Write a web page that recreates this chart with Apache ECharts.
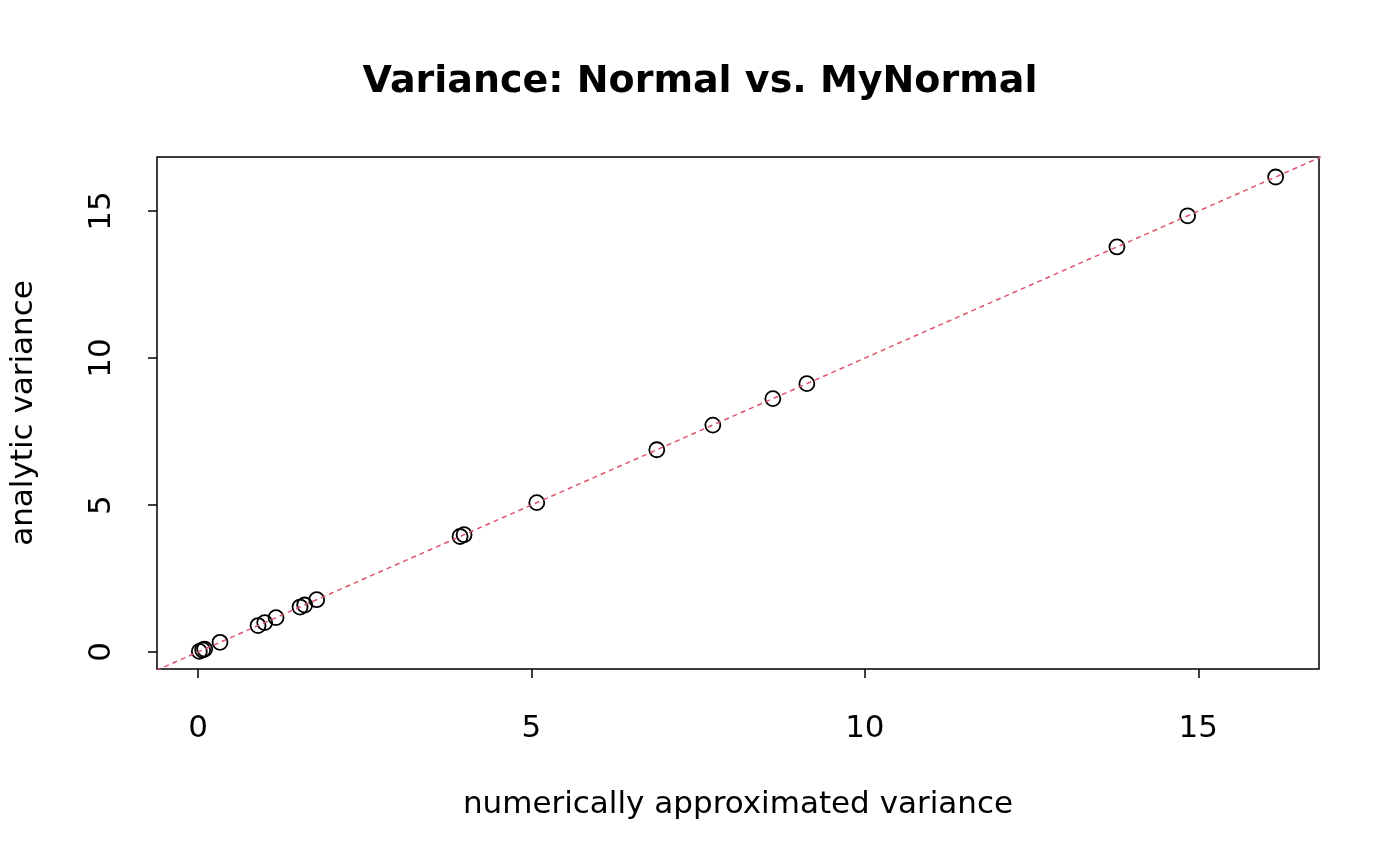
<!DOCTYPE html>
<html>
<head>
<meta charset="UTF-8">
<title>Variance: Normal vs. MyNormal</title>
<script src="https://cdn.jsdelivr.net/npm/echarts@6/dist/echarts.min.js"></script>
</head>
<body style="margin:0">
<div id="main" style="width:1400px;height:866px;"></div>
<script>
var numeric = [0.02, 0.07, 0.1, 0.33, 0.9, 1.0, 1.17, 1.53, 1.6, 1.78, 3.93, 3.99, 5.08, 6.88, 7.72, 8.62, 9.13, 13.78, 14.84, 16.16];
var analytic = [0.02, 0.07, 0.1, 0.33, 0.9, 1.0, 1.17, 1.53, 1.6, 1.78, 3.93, 3.99, 5.08, 6.88, 7.72, 8.62, 9.13, 13.78, 14.84, 16.16];
var refLine = [[-1, -1], [18, 18]];
var ticks = [0, 5, 10, 15];

var pts = numeric.map(function (v, i) { return [v, analytic[i]]; });
var font = 'DejaVu Sans';
var chart = echarts.init(document.getElementById('main'));
chart.setOption({
  backgroundColor: '#fff',
  animation: false,
  title: {
    text: 'Variance: Normal vs. MyNormal', left: 'center', top: 58,
    textStyle: { fontFamily: font, fontSize: 38, fontWeight: 'bold', color: '#000' }
  },
  grid: { left: 157, right: 81, top: 157, bottom: 197, show: true, borderColor: '#000', borderWidth: 1.5 },
  xAxis: {
    type: 'value', min: -0.615, max: 16.81,
    name: 'numerically approximated variance', nameLocation: 'middle', nameGap: 120,
    nameTextStyle: { fontFamily: font, fontSize: 31, color: '#000' },
    axisLine: { show: false, onZero: false }, splitLine: { show: false },
    axisTick: { show: true, inside: false, length: 9, lineStyle: { color: '#000', width: 1.5 }, customValues: ticks },
    axisLabel: { fontFamily: font, fontSize: 31, color: '#000', margin: 44, customValues: ticks }
  },
  yAxis: {
    type: 'value', min: -0.578, max: 16.84,
    name: 'analytic variance', nameLocation: 'middle', nameGap: 118, nameRotate: 90,
    nameTextStyle: { fontFamily: font, fontSize: 31, color: '#000' },
    axisLine: { show: false, onZero: false }, splitLine: { show: false },
    axisTick: { show: true, inside: false, length: 9, lineStyle: { color: '#000', width: 1.5 }, customValues: ticks },
    axisLabel: { fontFamily: font, fontSize: 31, color: '#000', margin: 40, rotate: 90, customValues: ticks }
  },
  series: [
    {
      type: 'line', data: refLine, symbol: 'none', clip: true,
      lineStyle: { color: '#DF536B', width: 1.5, type: [5, 4] }
    },
    {
      type: 'scatter', data: pts, symbol: 'circle', symbolSize: 15,
      itemStyle: { color: 'rgba(0,0,0,0)', borderColor: '#000', borderWidth: 1.8, opacity: 1 }
    }
  ]
});
</script>
</body>
</html>
